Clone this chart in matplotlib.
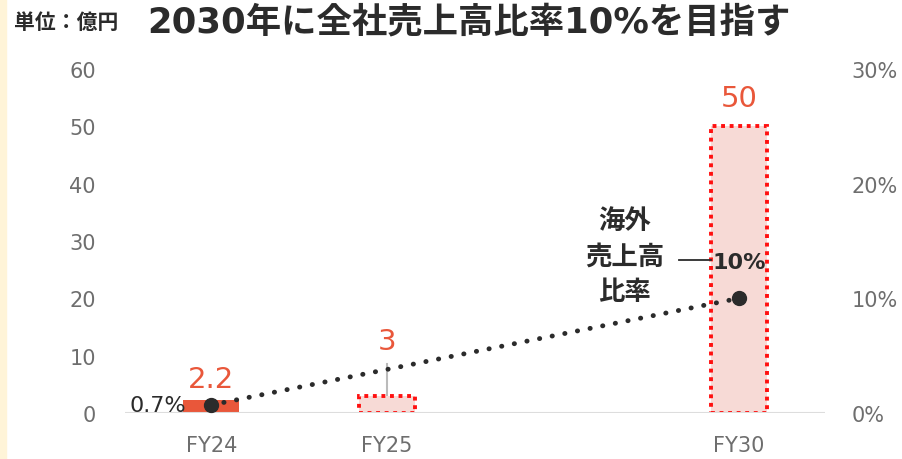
import matplotlib.pyplot as plt
from matplotlib.patches import Rectangle

# latin glyphs from DejaVu (wide like the original), kanji from Noto
plt.rcParams['font.family'] = ['DejaVu Sans', 'Noto Sans CJK JP']

# data
years = ["FY24", "FY25", "FY30"]
xpos = [0, 1, 3]
sales = [2.2, 3, 50]
sales_labels = ["2.2", "3", "50"]
ratio_x = [0, 3]
ratio = [0.7, 10]

orange = "#E9573A"
pink = "#F7DAD6"
red = "#FF1010"
gray = "#6E6E6E"
dark = "#2B2B2B"

fig = plt.figure(figsize=(9.02, 4.60), dpi=100)
ax = fig.add_axes([0.1386, 0.1, 0.776, 0.748])
ax2 = ax.twinx()

# bars
w = 0.32
ax.bar(xpos[0], sales[0], width=w, color=orange, zorder=2)
for x, v in zip(xpos[1:], sales[1:]):
    ax.bar(x, v, width=w, color=pink, edgecolor=red, linewidth=2.8,
           linestyle=(0, (1, 1.2)), zorder=2)

# value labels
ax.text(xpos[0], sales[0] + 3.8, sales_labels[0], color=orange, fontsize=21,
        ha="center", va="center")
ax.text(xpos[1], 12.6, sales_labels[1], color=orange, fontsize=21,
        ha="center", va="center")
ax.plot([xpos[1], xpos[1]], [3.2, 8.6], color="#BBBBBB", lw=1.5, zorder=1)
ax.text(xpos[2], sales[2] + 5.0, sales_labels[2], color=orange, fontsize=21,
        ha="center", va="center")

ax.axhline(0, color="#DDDDDD", lw=1.5, zorder=3)
ax.set_xlim(-0.49, 3.49)
ax.set_ylim(0, 60)
ax.set_yticks(range(0, 61, 10))
ax.set_xticks(xpos)
ax.set_xticklabels(years)
ax.tick_params(axis="both", length=0, labelsize=15, labelcolor=gray)
ax.tick_params(axis="x", pad=16)
ax.tick_params(axis="y", pad=21)

# ratio line (right axis)
ax2.plot(ratio_x, ratio, color=dark, lw=3.5, linestyle=(0, (0.05, 2.6)),
         dash_capstyle="round", zorder=4)
ax2.plot(ratio_x, ratio, "o", color=dark, markersize=10, zorder=5)
ax2.set_ylim(0, 30)
ax2.set_yticks(range(0, 31, 10))
ax2.set_yticklabels([f"{t}%" for t in range(0, 31, 10)])
ax2.tick_params(axis="y", length=0, labelsize=15, labelcolor=gray, pad=19)

ax2.text(-0.14, ratio[0], "0.7%", color=dark, fontsize=16, ha="right", va="center")
ax2.text(3.0, 13.2, "10%", color=dark, fontsize=16, fontweight="bold",
         ha="center", va="center")
ax2.text(2.35, 13.7, "海外\n売上高\n比率", color=dark, fontsize=19,
         fontweight="bold", ha="center", va="center", linespacing=1.4,
         family="Noto Sans CJK JP")
ax2.plot([2.66, 2.84], [13.3, 13.3], color=dark, lw=1.3)

for a in (ax, ax2):
    for s in a.spines.values():
        s.set_visible(False)

# header
fig.text(0.015, 0.952, "単位：億円", fontsize=15, fontweight="bold",
         color=dark, va="center", family="Noto Sans CJK JP")
fig.text(0.163, 0.952, "2030年に全社売上高比率10%を目指す", fontsize=25.5,
         fontweight="bold", color=dark, va="center")

# left accent strip
fig.patches.append(Rectangle((0, 0), 0.007, 1, transform=fig.transFigure,
                             color="#FFF4D8", zorder=0))

fig.savefig("out.png", dpi=100)
